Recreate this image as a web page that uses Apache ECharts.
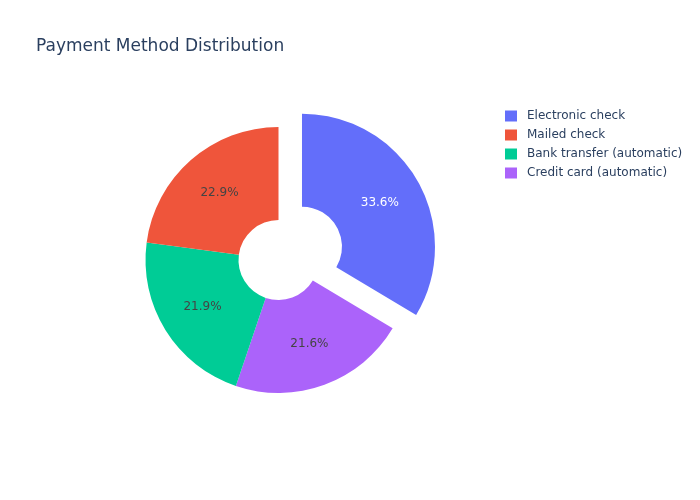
<!DOCTYPE html>
<html>
<head>
<meta charset="utf-8">
<script src="https://cdn.jsdelivr.net/npm/echarts@6/dist/echarts.min.js"></script>
<style>html,body{margin:0;padding:0;background:#fff}#c{width:700px;height:500px}</style>
</head>
<body>
<div id="c"></div>
<script>
// Data (slice order clockwise from 12 o'clock)
var categories = ['Electronic check', 'Credit card (automatic)', 'Bank transfer (automatic)', 'Mailed check'];
var values = [2365, 1522, 1544, 1612];
var colors = ['#636efa', '#ab63fa', '#00cc96', '#EF553B'];
var labelColors = ['#ffffff', '#444444', '#444444', '#444444'];
var legendOrder = ['Electronic check', 'Mailed check', 'Bank transfer (automatic)', 'Credit card (automatic)'];
var pulled = ['Electronic check'];

var FONT = '"DejaVu Sans", verdana, arial, sans-serif';
var chart = echarts.init(document.getElementById('c'), null, {renderer: 'canvas'});
var data = categories.map(function (name, i) {
  return {
    name: name,
    value: values[i],
    selected: pulled.indexOf(name) >= 0,
    itemStyle: {color: colors[i]},
    label: {color: labelColors[i]}
  };
});
chart.setOption({
  animation: false,
  backgroundColor: '#ffffff',
  title: {
    text: 'Payment Method Distribution',
    left: 31, top: 33,
    textStyle: {fontFamily: FONT, fontSize: 17, fontWeight: 'normal', color: '#2a3f5f'}
  },
  legend: {
    orient: 'vertical',
    left: 500, top: 105,
    icon: 'rect',
    itemWidth: 12, itemHeight: 11,
    itemGap: 7,
    data: legendOrder,
    textStyle: {fontFamily: FONT, fontSize: 12, color: '#2a3f5f', padding: [0, 0, 0, 5]}
  },
  series: [{
    type: 'pie',
    center: [278.5, 260],
    radius: [40, 133],
    startAngle: 90,
    clockwise: true,
    selectedMode: 'single',
    selectedOffset: 27,
    avoidLabelOverlap: false,
    emphasis: {disabled: true},
    label: {
      show: true,
      position: 'inside',
      fontFamily: FONT,
      fontSize: 12,
      formatter: function (p) { return p.percent.toFixed(1) + '%'; }
    },
    labelLine: {show: false},
    percentPrecision: 1,
    data: data
  }]
});
</script>
</body>
</html>
